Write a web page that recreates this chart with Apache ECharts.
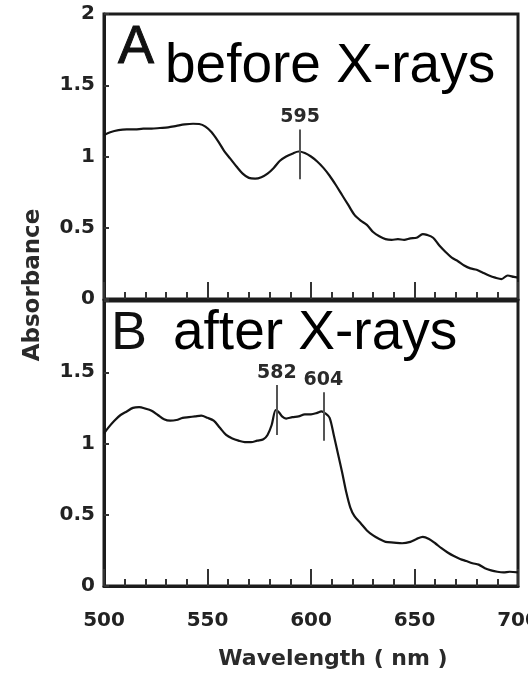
<!DOCTYPE html>
<html>
<head>
<meta charset="utf-8">
<script src="https://cdn.jsdelivr.net/npm/echarts@6/dist/echarts.min.js"></script>
<style>
html,body{margin:0;padding:0;background:#fff;}
#c{width:528px;height:679px;}
</style>
</head>
<body>
<div id="c"></div>
<script>
// Panel A: before X-rays
var wlA  = [500,503,507,511,515,519,523,527,531,535,539,543,546,549,552,555,558,561,564,567,570,573,576,579,582,585,588,591,594,597,600,603,606,609,612,615,618,621,624,627,630,633,636,639,642,645,648,651,654,656,659,662,665,668,671,674,677,680,683,686,689,692,695,698,700];
var absA = [1.15,1.17,1.185,1.19,1.19,1.195,1.195,1.20,1.205,1.215,1.225,1.23,1.228,1.21,1.17,1.11,1.04,0.985,0.93,0.88,0.85,0.845,0.855,0.88,0.92,0.97,1.0,1.02,1.035,1.025,1.0,0.965,0.92,0.865,0.80,0.73,0.66,0.59,0.55,0.52,0.47,0.44,0.42,0.415,0.42,0.415,0.425,0.43,0.455,0.45,0.43,0.375,0.33,0.29,0.265,0.235,0.215,0.205,0.185,0.165,0.15,0.14,0.165,0.155,0.15];
// Panel B: after X-rays
var wlB  = [500,502,505,508,511,514,517,520,523,526,529,532,535,538,541,544,547,550,553,556,559,562,565,568,571,574,577,579,581,583,584.5,586,588,591,594,597,600,603,605,607,609,611,613,615,617,619,621,624,627,630,633,636,640,644,648,651,654,657,660,663,666,669,672,675,678,681,684,687,690,693,696,700];
var absB = [1.07,1.11,1.16,1.20,1.225,1.25,1.255,1.245,1.23,1.20,1.17,1.16,1.165,1.18,1.185,1.19,1.195,1.18,1.16,1.11,1.06,1.035,1.02,1.01,1.01,1.02,1.03,1.06,1.13,1.235,1.22,1.19,1.175,1.185,1.19,1.205,1.205,1.215,1.225,1.21,1.18,1.06,0.93,0.80,0.66,0.55,0.49,0.44,0.39,0.355,0.33,0.31,0.305,0.30,0.31,0.33,0.345,0.33,0.30,0.265,0.235,0.21,0.19,0.175,0.16,0.15,0.125,0.11,0.10,0.095,0.10,0.095];
// Peak markers: [wavelength position, low, high, label]
var markA = [[594.7, 0.84, 1.19, '595']];
var markB = [[583.5, 1.06, 1.41, '582'], [606, 1.02, 1.36, '604']];
var xTicks = [500, 550, 600, 650, 700];
var yTicks = [0, 0.5, 1, 1.5, 2];

function pairs(x, y){ return x.map(function(v,i){ return [v, y[i]]; }); }
function marks(m){
  return m.map(function(d){
    return [{coord:[d[0], d[1]]}, {coord:[d[0], d[2]], label:{formatter: d[3]}}];
  });
}

var FONT = 'DejaVu Sans';
var INK = '#1c1c1c';

function xAxis(idx, labels){
  return {
    type:'value', gridIndex: idx, min: xTicks[0], max: xTicks[xTicks.length-1], interval: 50,
    axisLine:{show:true, lineStyle:{color:INK, width:3}},
    axisTick:{show:true, inside:true, length:17, lineStyle:{color:'#333', width:2}},
    minorTick:{show:true, splitNumber:5, length:7, lineStyle:{color:'#333', width:2}},
    splitLine:{show:false},
    axisLabel:{show:labels, fontFamily:FONT, fontWeight:'bold', fontSize:20, color:'#222', margin:25,
      formatter:function(v){ return String(v); }},
    name: labels ? 'Wavelength ( nm )' : '',
    nameLocation:'middle', nameGap:62,
    nameTextStyle:{fontFamily:FONT, fontWeight:'bold', fontSize:22, color:'#2a2a2a', padding:[0,0,0,44]}
  };
}
function yAxis(idx, showTop){
  return {
    type:'value', gridIndex: idx, min: yTicks[0], max: yTicks[yTicks.length-1], interval: 0.5,
    axisLine:{show:true, lineStyle:{color:INK, width:3}},
    axisTick:{show:true, inside:true, length:5, lineStyle:{color:'#333', width:2}},
    splitLine:{show:false},
    axisLabel:{fontFamily:FONT, fontWeight:'bold', fontSize:20, color:'#222', margin:9,
      formatter:function(v){ if(!showTop && v===2) return ''; return String(v); }}
  };
}
function lineSeries(idx, data, m){
  return {
    type:'line', xAxisIndex: idx, yAxisIndex: idx, data: data, showSymbol:false, smooth:0.3,
    lineStyle:{color:'#141414', width:2.2}, silent:true, animation:false,
    markLine:{
      symbol:['none','none'], silent:true, animation:false,
      lineStyle:{color:'#555', width:2, type:'solid'},
      label:{show:true, position:'end', distance:3, fontFamily:FONT, fontWeight:'bold', fontSize:19, color:'#2a2a2a'},
      data: marks(m)
    }
  };
}

var chart = echarts.init(document.getElementById('c'), null, {renderer:'canvas'});
chart.setOption({
  animation:false,
  backgroundColor:'#fff',
  grid:[
    {left:104, top:14, width:414, height:285, show:true, borderColor:INK, borderWidth:3, backgroundColor:'transparent', containLabel:false, outerBoundsMode:'none'},
    {left:104, top:301, width:414, height:285, show:true, borderColor:INK, borderWidth:3, backgroundColor:'transparent', containLabel:false, outerBoundsMode:'none'}
  ],
  xAxis:[xAxis(0,false), xAxis(1,true)],
  yAxis:[yAxis(0,true), yAxis(1,false)],
  series:[lineSeries(0, pairs(wlA, absA), markA), lineSeries(1, pairs(wlB, absB), markB)],
  graphic:[
    {type:'text', x:33, y:285, rotation:Math.PI/2,
      style:{text:'Absorbance', fontFamily:FONT, fontWeight:'bold', fontSize:23, fill:'#2a2a2a', align:'center', verticalAlign:'middle'}},
    {type:'text', x:118, y:48, style:{text:'A', fontFamily:'Liberation Sans', fontSize:54, fill:'#111', stroke:'#111', lineWidth:1, align:'left', verticalAlign:'middle'}},
    {type:'text', x:165, y:67, style:{text:'before X-rays', fontFamily:'Liberation Sans', fontSize:55, fill:'#000', align:'left', verticalAlign:'middle'}},
    {type:'text', x:111, y:334, style:{text:'B', fontFamily:'Liberation Sans', fontSize:54, fill:'#111', align:'left', verticalAlign:'middle'}},
    {type:'text', x:173, y:334, style:{text:'after X-rays', fontFamily:'Liberation Sans', fontSize:55, fill:'#000', align:'left', verticalAlign:'middle'}}
  ]
});
</script>
</body>
</html>
